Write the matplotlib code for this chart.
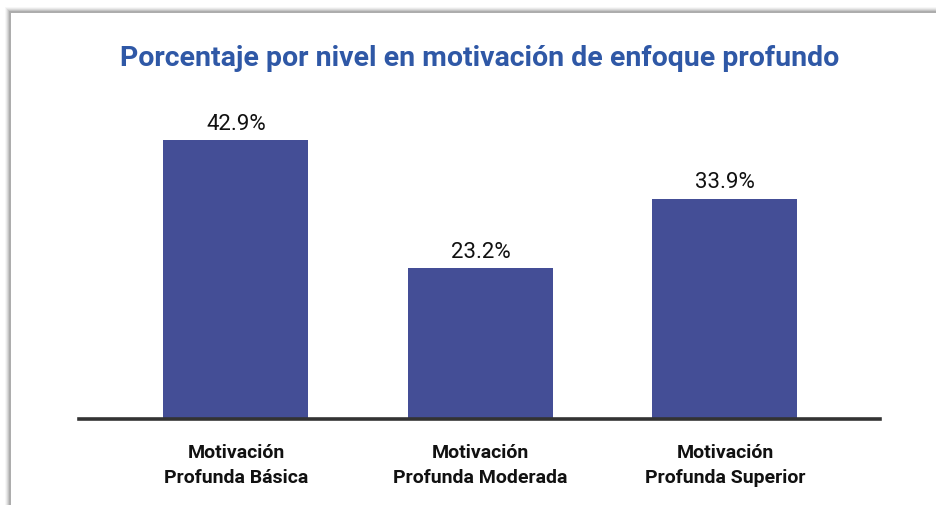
import matplotlib
matplotlib.use("Agg")
import matplotlib.pyplot as plt
from matplotlib.patches import Rectangle
from matplotlib import font_manager

categories = ["Motivación\nProfunda Básica", "Motivación\nProfunda Moderada", "Motivación\nProfunda Superior"]
values = [42.9, 23.2, 33.9]
value_labels = ["42.9%", "23.2%", "33.9%"]
title = "Porcentaje por nivel en motivación de enfoque profundo"

names = {f.name for f in font_manager.fontManager.ttflist}
fam = ["Liberation Sans Narrow"] if "Liberation Sans Narrow" in names else ["Roboto"]
fam = fam + ["DejaVu Sans"]
plt.rcParams["font.family"] = fam

W, H = 936, 506
fig = plt.figure(figsize=(W / 100, H / 100), dpi=100)
fig.patch.set_facecolor("white")

# card with soft shadow
for i, a in enumerate([0.03, 0.05, 0.07, 0.09, 0.12]):
    off = 5 - i
    fig.patches.append(Rectangle(((10 - off) / W, 0), 1, (H - 13 + off) / H,
                                 transform=fig.transFigure, facecolor="black",
                                 alpha=a, edgecolor="none", zorder=0))
fig.patches.append(Rectangle((11 / W, 0), 1, (H - 14) / H, transform=fig.transFigure,
                             facecolor="white", edgecolor="none", zorder=1))

ax = fig.add_axes([79 / W, 1 - 420 / H, (880 - 79) / W, (420 - 127.4) / H], zorder=5)
ax.set_facecolor("none")
x = list(range(len(categories)))
bars = ax.bar(x, values, width=0.593, color="#444e96", zorder=2)
ax.set_xlim(-0.642, 2.634)
ax.set_ylim(0, 45)
for s in ["top", "right", "left"]:
    ax.spines[s].set_visible(False)
ax.spines["bottom"].set_color("#333333")
ax.spines["bottom"].set_linewidth(2.6)
ax.spines["bottom"].set_zorder(3)
ax.set_yticks([])
ax.set_xticks(x)
ax.set_xticklabels(categories, fontsize=14, fontweight="bold", color="#111111",
                   linespacing=1.55)
ax.tick_params(axis="x", length=0, pad=17)

for xi, v, lab in zip(x, values, value_labels):
    ax.annotate(lab, (xi, v), xytext=(0, 4.5), textcoords="offset points",
                ha="center", va="bottom", fontsize=16, color="#111111")

fig.text(480 / W, 1 - 59 / H, title, ha="center", va="center", fontsize=20.5,
         fontweight="bold", color="#2f58a6", zorder=6)

fig.savefig("out.png", dpi=100)
